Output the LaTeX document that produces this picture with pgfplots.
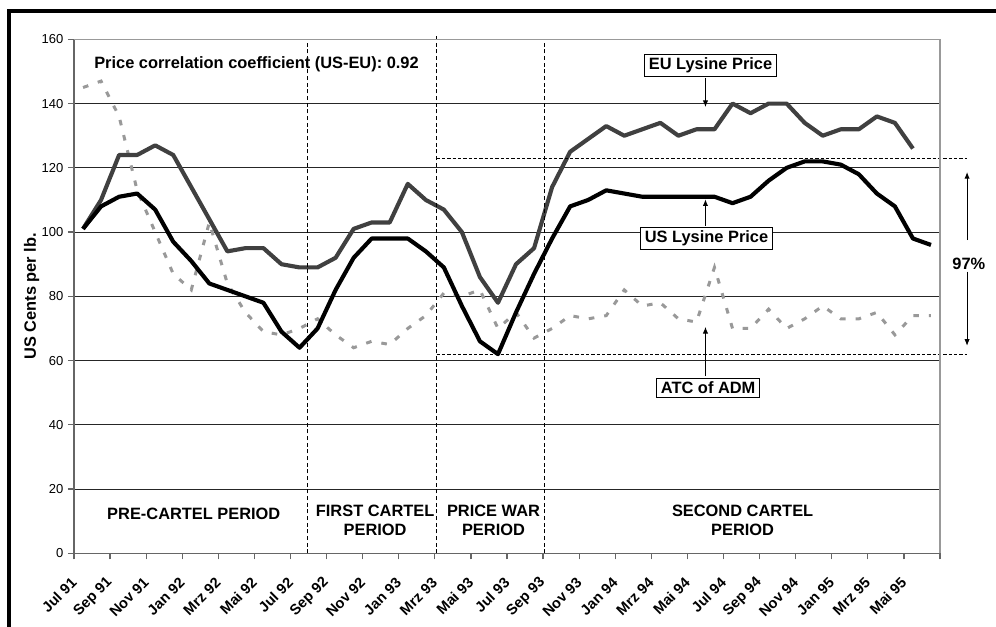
\documentclass[border=0pt]{standalone}
\usepackage{pgfplots}
\pgfplotsset{compat=1.18}
\usepackage{pgfplotstable}
\usepackage{fontspec}
\setmainfont{Liberation Sans}
\usetikzlibrary{arrows.meta}

\pgfplotstableread{
i v
0 101
1 110
2 124
3 124
4 127
5 124
6 114
7 104
8 94
9 95
10 95
11 90
12 89
13 89
14 92
15 101
16 103
17 103
18 115
19 110
20 107
21 100
22 86
23 78
24 90
25 95
26 114
27 125
28 129
29 133
30 130
31 132
32 134
33 130
34 132
35 132
36 140
37 137
38 140
39 140
40 134
41 130
42 132
43 132
44 136
45 134
46 126
}\eudata

\pgfplotstableread{
i v
0 101
1 108
2 111
3 112
4 107
5 97
6 91
7 84
8 82
9 80
10 78
11 69
12 64
13 70
14 82
15 92
16 98
17 98
18 98
19 94
20 89
21 77
22 66
23 62
24 75
25 87
26 98
27 108
28 110
29 113
30 112
31 111
32 111
33 111
34 111
35 111
36 109
37 111
38 116
39 120
40 122
41 122
42 121
43 118
44 112
45 108
46 98
47 96
}\usdata

\pgfplotstableread{
i v
0 145
1 147
2 136
3 113
4 100
5 87
6 82
7 103
8 84
9 75
10 69
11 68
12 70
13 73
14 68
15 64
16 66
17 65
18 70
19 74
20 81
21 80
22 82
23 70
24 75
25 67
26 70
27 74
28 73
29 74
30 82
31 77
32 78
33 73
34 72
35 89
36 70
37 70
38 76
39 70
40 73
41 77
42 73
43 73
44 75
45 68
46 74
47 74
}\atcdata

\begin{document}
\begin{tikzpicture}
\begin{axis}[
  at={(0,0)}, anchor=south west,
  scale only axis, width=649.5pt, height=385.5pt,
  xmin=-0.5, xmax=47.5, ymin=0, ymax=160,
  axis lines*=left,
  axis line style={draw=black!60, line width=0.9pt},
  ytick={0,20,...,160},
  ymajorgrids, grid style={black!85, line width=0.7pt},
  xtick={0,2,...,46},
  xticklabels={Jul 91, Sep 91, Nov 91, Jan 92, Mrz 92, Mai 92, Jul 92, Sep 92, Nov 92, Jan 93, Mrz 93, Mai 93, Jul 93, Sep 93, Nov 93, Jan 94, Mrz 94, Mai 94, Jul 94, Sep 94, Nov 94, Jan 95, Mrz 95, Mai 95},
  major x tick style={draw=none},
  minor xtick={-0.5,1.5,...,47.5},
  tick align=outside,
  major tick length=4.5pt, minor tick length=4.5pt,
  y tick style={black!60, line width=0.9pt},
  minor x tick style={black!60, line width=0.9pt},
  xticklabel style={xshift=-6.75pt, yshift=-15.5pt, rotate=45, anchor=east, inner sep=0pt, font=\bfseries\fontsize{11}{13}\selectfont},
  yticklabel style={font=\fontsize{9.75}{11}\selectfont},
  /pgf/number format/assume math mode=true,
  ylabel={US Cents per lb.},
  ylabel style={at={(axis description cs:-0.0439,0.5)}, anchor=base, inner sep=0pt, font=\bfseries\fontsize{12.3}{14}\selectfont},
  clip=false,
]
\addplot[black!40, line width=2.25pt, dash pattern=on 4.2pt off 7.5pt] table[x=i,y=v]{\atcdata};
\addplot[black!75, line width=3.1pt, line join=round] table[x=i,y=v]{\eudata};
\addplot[black, line width=3.1pt, line join=round] table[x=i,y=v]{\usdata};

% period separators
\draw[black, line width=0.6pt, dash pattern=on 3pt off 2pt] (axis cs:12.43,0) -- (axis cs:12.43,160);
\draw[black, line width=0.6pt, dash pattern=on 3pt off 2pt] (axis cs:19.6,0) -- (axis cs:19.6,161);
\draw[black, line width=0.6pt, dash pattern=on 3pt off 2pt] (axis cs:25.57,0) -- (axis cs:25.57,160);

% range lines
\draw[black, line width=0.6pt, dash pattern=on 2.5pt off 1.5pt] (axis cs:19.6,122.8) -- (axis cs:49.0,122.8);
\draw[black, line width=0.6pt, dash pattern=on 2.5pt off 1.5pt] (axis cs:19.6,62) -- (axis cs:49.0,62);
\draw[black, line width=0.7pt, -{Latex[length=5pt,width=4pt]}] (axis cs:49.0,97.5) -- (axis cs:49.0,118.7);
\draw[black, line width=0.7pt, -{Latex[length=5pt,width=4pt]}] (axis cs:49.0,87.7) -- (axis cs:49.0,64.6);
\node[anchor=base, inner sep=0pt, font=\bfseries\fontsize{12.3}{14}\selectfont] at (axis cs:49.1,88.5) {97\%};

% right / top border of plot area
\draw[black!40, line width=1.2pt] (rel axis cs:0,1) -- (rel axis cs:1,1) -- (rel axis cs:1,0);

% callouts
\draw[black, line width=0.7pt, -{Latex[length=5pt,width=4pt]}] (axis cs:34.5,148.0) -- (axis cs:34.5,138.9);
\draw[black, line width=0.7pt, -{Latex[length=5pt,width=4pt]}] (axis cs:34.5,101.9) -- (axis cs:34.5,110.2);
\draw[black, line width=0.7pt, -{Latex[length=5pt,width=4pt]}] (axis cs:34.5,55.2) -- (axis cs:34.5,70.5);
\node[draw, fill=white, line width=0.75pt, inner xsep=3pt, inner ysep=2.5pt, font=\bfseries\fontsize{12.3}{14}\selectfont] at (axis cs:34.78,151.8) {EU Lysine Price};
\node[draw, fill=white, line width=0.75pt, inner xsep=3pt, inner ysep=2.5pt, font=\bfseries\fontsize{12.3}{14}\selectfont] at (axis cs:34.56,98.1) {US Lysine Price};
\node[draw, fill=white, line width=0.75pt, inner xsep=3pt, inner ysep=2.5pt, font=\bfseries\fontsize{12.3}{14}\selectfont] at (axis cs:34.65,51.5) {ATC of ADM};

% texts
\node[anchor=base west, inner sep=0pt, font=\bfseries\fontsize{12.3}{14}\selectfont] at (axis cs:0.61,151.0) {Price correlation coefficient (US-EU): 0.92};
\node[anchor=base, inner sep=0pt, font=\bfseries\fontsize{12.3}{14}\selectfont] at (axis cs:6.14,10.4) {PRE-CARTEL PERIOD};
\node[anchor=base, inner sep=0pt, font=\bfseries\fontsize{12.3}{14}\selectfont] at (axis cs:16.19,11.4) {FIRST CARTEL};
\node[anchor=base, inner sep=0pt, font=\bfseries\fontsize{12.3}{14}\selectfont] at (axis cs:16.19,5.4) {PERIOD};
\node[anchor=base, inner sep=0pt, font=\bfseries\fontsize{12.3}{14}\selectfont] at (axis cs:22.75,11.4) {PRICE WAR};
\node[anchor=base, inner sep=0pt, font=\bfseries\fontsize{12.3}{14}\selectfont] at (axis cs:22.75,5.4) {PERIOD};
\node[anchor=base, inner sep=0pt, font=\bfseries\fontsize{12.3}{14}\selectfont] at (axis cs:36.56,11.4) {SECOND CARTEL};
\node[anchor=base, inner sep=0pt, font=\bfseries\fontsize{12.3}{14}\selectfont] at (axis cs:36.56,5.4) {PERIOD};
\end{axis}
\draw[black, line width=2.6pt] (-48.75pt,-70pt) -- (-48.75pt,406.9pt) -- (710pt,406.9pt);
\pgfresetboundingbox
\useasboundingbox (-55.5pt,-54.5pt) rectangle (691.5pt,415pt);
\end{tikzpicture}
\end{document}
